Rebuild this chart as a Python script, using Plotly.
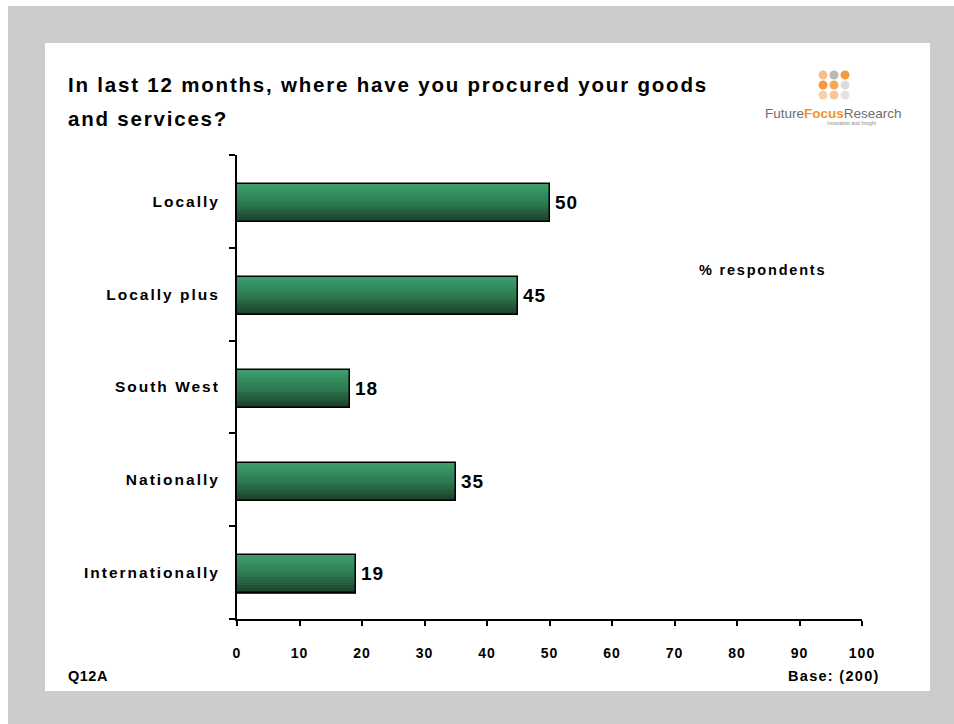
import plotly.graph_objects as go

# Survey data
categories = ["Locally", "Locally plus", "South West", "Nationally", "Internationally"]
values = [50, 45, 18, 35, 19]
x_ticks = list(range(0, 101, 10))

title_line1 = "In last 12 months, where have you procured your goods"
title_line2 = "and services?"
unit_note = "% respondents"
question_id = "Q12A"
base_note = "Base: (200)"

W, H = 954, 724
PLOT_L, PLOT_R, PLOT_T, PLOT_B = 237, 862, 155, 619
FONT = "Liberation Sans, Arial, sans-serif"


def px(x):
    return (x - PLOT_L) / (PLOT_R - PLOT_L)


def py(y):
    return (PLOT_B - y) / (PLOT_B - PLOT_T)


def spaced(s, sp, bold=True):
    inner = f"<span style='letter-spacing:{sp}px'>{s}</span>"
    return f"<b>{inner}</b>" if bold else inner


def lerp_color(c1, c2, t):
    return "rgb({},{},{})".format(*[round(a + (b - a) * t) for a, b in zip(c1, c2)])


fig = go.Figure()

# Vertical gradient on each bar: thin horizontal slices from light (top) to dark (bottom)
bar_w = 0.41
bar_shift = 0.02
n_slices = 14
top_col = (60, 160, 110)
mid_col = (44, 122, 80)
bot_col = (26, 60, 40)
for i in range(n_slices):
    t = (i + 0.5) / n_slices
    if t < 0.5:
        col = lerp_color(top_col, mid_col, t / 0.5)
    else:
        col = lerp_color(mid_col, bot_col, (t - 0.5) / 0.5)
    fig.add_trace(go.Bar(
        y=categories, x=values, orientation="h",
        offset=-bar_w / 2 + bar_shift + i * bar_w / n_slices,
        width=bar_w / n_slices + 0.002,
        marker=dict(color=col, line=dict(width=0)),
        hoverinfo="skip", showlegend=False,
    ))

# Outline and value labels
fig.add_trace(go.Bar(
    y=categories, x=values, orientation="h",
    offset=-bar_w / 2 + bar_shift, width=bar_w,
    marker=dict(color="rgba(0,0,0,0)", line=dict(color="black", width=1.5)),
    text=["<span style='font-size:10px'>\u00a0</span>" + spaced(str(v), 1) for v in values],
    textposition="outside",
    textfont=dict(family=FONT, size=19, color="black"),
    cliponaxis=False, showlegend=False,
))

shapes = [
    dict(type="rect", xref="paper", yref="paper", layer="below",
         x0=px(8), x1=px(W), y0=py(6), y1=py(H),
         fillcolor="#cccccc", line=dict(width=0)),
    dict(type="rect", xref="paper", yref="paper", layer="below",
         x0=px(45), x1=px(930), y0=py(43), y1=py(691),
         fillcolor="white", line=dict(width=0)),
]

# Logo dots
dot_cols = [
    ["#f7c08a", "#b8b8b8", "#f39a3c"],
    ["#f39a3c", "#f5a95a", "#dcdcdc"],
    ["#f9d2ac", "#f8c69a", "#e2e2e2"],
]
dot_x = [823, 834, 845]
dot_y = [75, 85, 95]
r = 4.5
for ri, yy in enumerate(dot_y):
    for ci, xx in enumerate(dot_x):
        shapes.append(dict(type="circle", xref="paper", yref="paper",
                           x0=px(xx - r), x1=px(xx + r), y0=py(yy + r), y1=py(yy - r),
                           fillcolor=dot_cols[ri][ci], line=dict(width=0)))


def note(text, x, y, size, anchor="left", color="black"):
    return dict(text=text, x=px(x), y=py(y), xanchor=anchor, yanchor="middle",
                xref="paper", yref="paper", showarrow=False,
                font=dict(family=FONT, size=size, color=color))


annotations = [
    note(spaced(title_line1, 1.8), 66, 85, 20.5),
    note(spaced(title_line2, 1.8), 66, 118, 20.5),
    note(spaced(unit_note, 1.8), 762, 270, 14.5, "center"),
    note(spaced(question_id, 0.5), 66, 676, 14.5),
    note(spaced(base_note, 1.3), 882, 676, 14.5, "right"),
    note("Future<b><span style='color:#f0922b'>Focus</span></b>Research", 833, 113, 13.5,
         "center", "#6e6e6e"),
    note("Innovation and Insight", 852, 123, 5, "center", "#8a8a8a"),
]

fig.update_layout(
    width=W, height=H,
    margin=dict(l=PLOT_L, r=W - PLOT_R, t=PLOT_T, b=H - PLOT_B, pad=0),
    paper_bgcolor="white", plot_bgcolor="rgba(0,0,0,0)",
    barmode="overlay", bargap=0,
    shapes=shapes, annotations=annotations,
    xaxis=dict(range=[0, 100], tickvals=x_ticks, ticktext=[spaced(str(v), 1) for v in x_ticks],
               showgrid=False, zeroline=False, showline=True, linecolor="black", linewidth=2,
               ticks="outside", ticklen=5, tickwidth=1.5, tickcolor="black",
               ticklabelstandoff=15,
               tickfont=dict(family=FONT, size=14, color="black"),
               fixedrange=True),
    yaxis=dict(autorange="reversed", type="category", categoryorder="array",
               categoryarray=categories, tickson="boundaries",
               tickvals=categories, ticktext=[spaced(c, 2.0) for c in categories],
               showgrid=False, zeroline=False, showline=True, linecolor="black", linewidth=2,
               ticks="outside", ticklen=6, tickwidth=1.5, tickcolor="black",
               ticklabelstandoff=12,
               tickfont=dict(family=FONT, size=15.5, color="black"),
               fixedrange=True),
)

fig.write_html("out.html")
